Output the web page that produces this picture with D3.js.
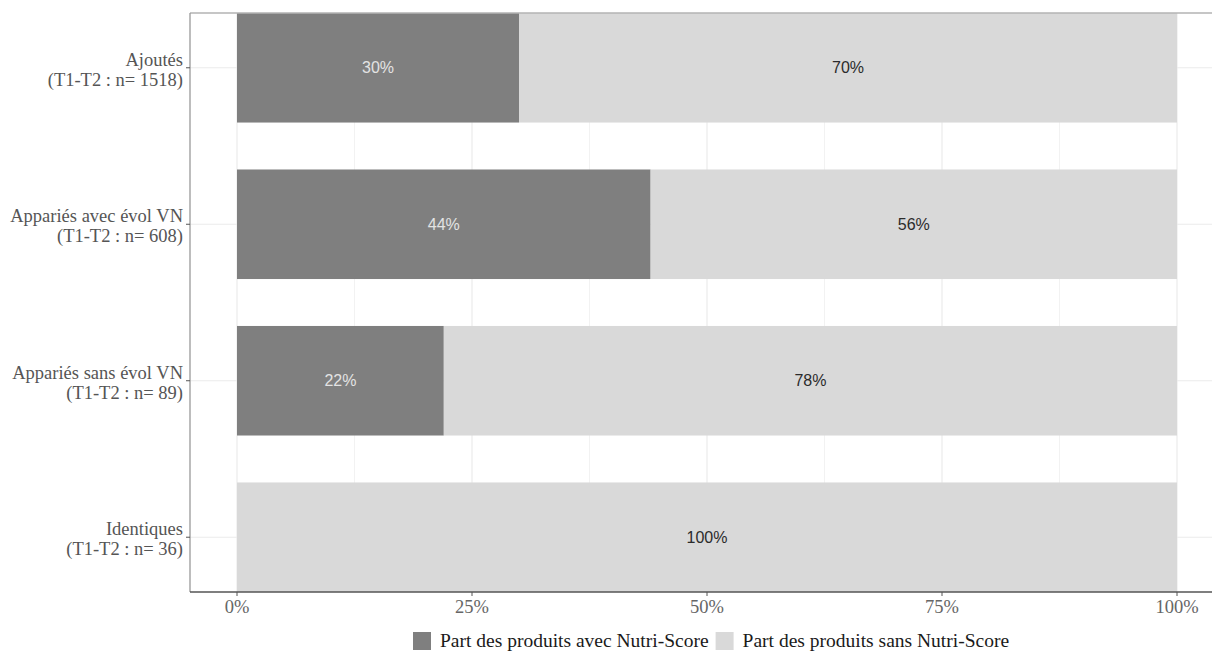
<!DOCTYPE html>
<html><head><meta charset="utf-8">
<script src="https://cdn.jsdelivr.net/npm/d3@7"></script>
<style>body{margin:0;background:#fff}svg{display:block}</style>
</head><body>
<svg id="c" width="1212" height="653"></svg>
<script>
const categories = ["Ajoutés", "Appariés avec évol VN", "Appariés sans évol VN", "Identiques"];
const categoryN = ["(T1-T2 : n= 1518)", "(T1-T2 : n= 608)", "(T1-T2 : n= 89)", "(T1-T2 : n= 36)"];
const withNS = [30, 44, 22, 0];
const withoutNS = [70, 56, 78, 100];
const seriesNames = ["Part des produits avec Nutri-Score", "Part des produits sans Nutri-Score"];
const xTicks = [0, 25, 50, 75, 100];

const svg = d3.select("#c");
const panel = {left:190, top:13, right:1240, bottom:592};
const x = d3.scaleLinear().domain([0,100]).range([237,1177]);
const y = d3.scaleBand().domain(categories).range([panel.top, panel.bottom]).paddingInner(0.3).paddingOuter(0);
const serif = "'Liberation Serif', serif";
const sans = "'Liberation Sans', Arial, sans-serif";
const colors = ["#7f7f7f", "#d9d9d9"];

const g = svg.append("g");
// grid
const minor = d3.range(12.5, 100, 25);
g.selectAll(".gmin").data(minor).join("line")
  .attr("x1", d=>x(d)).attr("x2", d=>x(d)).attr("y1", panel.top).attr("y2", panel.bottom)
  .attr("stroke", "#f2f2f2").attr("stroke-width", 1);
g.selectAll(".gmaj").data(xTicks).join("line")
  .attr("x1", d=>x(d)).attr("x2", d=>x(d)).attr("y1", panel.top).attr("y2", panel.bottom)
  .attr("stroke", "#ebebeb").attr("stroke-width", 1.2);
g.selectAll(".gy").data(categories).join("line")
  .attr("x1", panel.left).attr("x2", panel.right)
  .attr("y1", d=>y(d)+y.bandwidth()/2).attr("y2", d=>y(d)+y.bandwidth()/2)
  .attr("stroke", "#ebebeb").attr("stroke-width", 1.2);

// bars
const rows = categories.map((c,i)=>({c, a:withNS[i], b:withoutNS[i]}));
rows.forEach(r=>{
  const segs = [{v0:0, v1:r.a, col:colors[0], txt:"#e3e3e3"}, {v0:r.a, v1:r.a+r.b, col:colors[1], txt:"#2b2b2b"}];
  segs.forEach(s=>{
    if (s.v1 - s.v0 <= 0) return;
    g.append("rect").attr("x", x(s.v0)).attr("width", x(s.v1)-x(s.v0))
      .attr("y", y(r.c)).attr("height", y.bandwidth()).attr("fill", s.col);
    g.append("text").attr("x", (x(s.v0)+x(s.v1))/2).attr("y", y(r.c)+y.bandwidth()/2)
      .attr("text-anchor","middle").attr("dominant-baseline","central")
      .attr("font-family", sans).attr("font-size", 16).attr("fill", s.txt)
      .text((s.v1-s.v0)+"%");
  });
});

// axes lines
svg.append("line").attr("x1", panel.left).attr("x2", panel.right).attr("y1", panel.top).attr("y2", panel.top)
  .attr("stroke", "#b3b3b3").attr("stroke-width", 1.5);
svg.append("line").attr("x1", panel.left).attr("x2", panel.left).attr("y1", panel.top).attr("y2", panel.bottom)
  .attr("stroke", "#999").attr("stroke-width", 1.3);
svg.append("line").attr("x1", panel.left).attr("x2", panel.right).attr("y1", panel.bottom).attr("y2", panel.bottom)
  .attr("stroke", "#555").attr("stroke-width", 1.3);

// x axis ticks & labels
const xa = svg.append("g");
xa.selectAll("line").data(xTicks).join("line")
  .attr("x1", d=>x(d)).attr("x2", d=>x(d)).attr("y1", panel.bottom).attr("y2", panel.bottom+4)
  .attr("stroke", "#555");
xa.selectAll("text").data(xTicks).join("text")
  .attr("x", d=>x(d)).attr("y", 613).attr("text-anchor","middle")
  .attr("font-family", serif).attr("font-size", 18.5).attr("fill", "#666")
  .text(d=>d3.format("d")(d)+"%");

// y axis ticks & labels
const ya = svg.append("g");
categories.forEach((c,i)=>{
  const cy = y(c)+y.bandwidth()/2;
  ya.append("line").attr("x1", panel.left-4).attr("x2", panel.left).attr("y1", cy).attr("y2", cy).attr("stroke", "#555");
  const t = ya.append("text").attr("text-anchor","end").attr("font-family", serif).attr("font-size", 18.5).attr("fill", "#555");
  t.append("tspan").attr("x", 183).attr("y", cy-2).text(c);
  t.append("tspan").attr("x", 183).attr("y", cy+18).text(categoryN[i]);
});

// legend
const lg = svg.append("g");
let lx = 413;
seriesNames.forEach((s,i)=>{
  lg.append("rect").attr("x", lx).attr("y", 632).attr("width", 18).attr("height", 18).attr("fill", colors[i]);
  const t = lg.append("text").attr("x", lx+27).attr("y", 647).attr("font-family", serif).attr("font-size", 19.5).attr("fill", "#1a1a1a").text(s);
  lx = lx + 27 + t.node().getComputedTextLength() + 7;
});
</script>
</body></html>
